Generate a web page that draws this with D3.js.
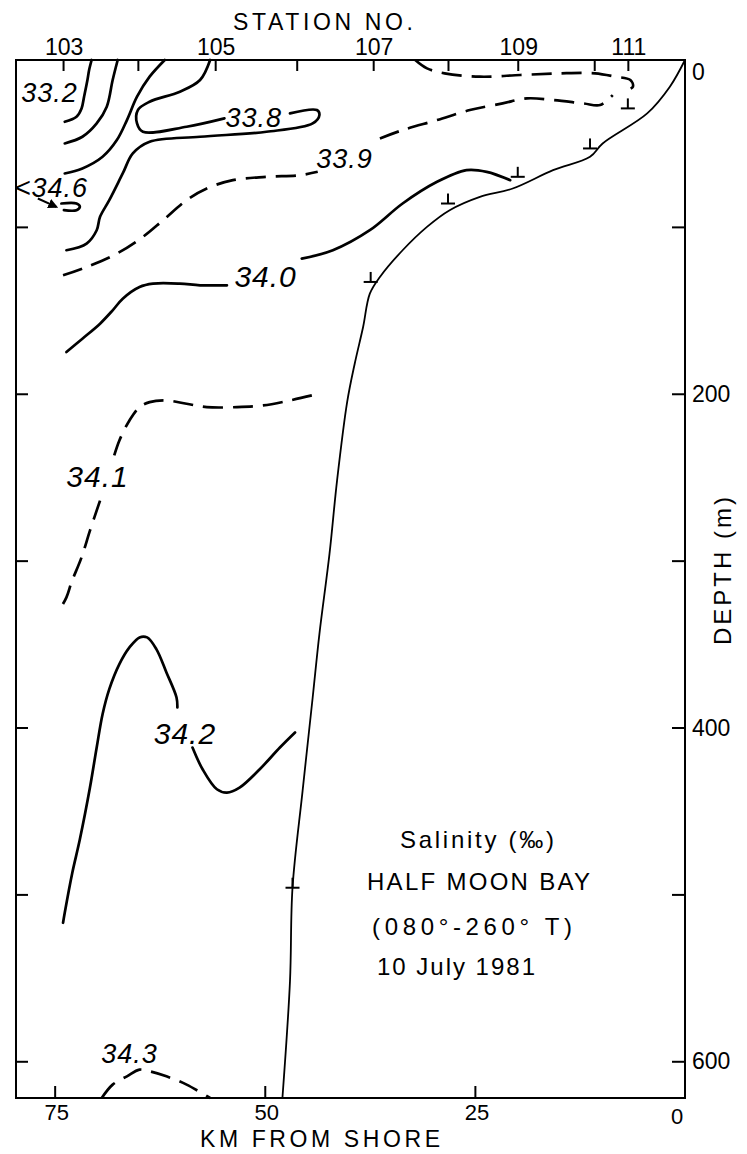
<!DOCTYPE html>
<html><head><meta charset="utf-8">
<script src="https://cdn.jsdelivr.net/npm/d3@7"></script>
<style>body{margin:0;background:#fff} svg{display:block}</style>
</head><body><svg id="c" width="747" height="1154"></svg>
<script>
// ---------- data (km from shore, depth m) ----------
const stationNames = ["103","104","105","106","107","108","109","110","111"];
const stationKm = [74.0, 65.1, 55.9, 46.2, 37.1, 28.2, 19.9, 10.8, 6.8];
const stationLabelled = ["103","105","107","109","111"];
const kmTicks = [75, 50, 25, 0];
const depthLabels = [0, 200, 400, 600];
const depthTicks = [100, 200, 300, 400, 500, 600];

// deepest sample at each station (⊥ marks)
const sampleKm = [46.7, 37.4, 28.2, 19.9, 11.3, 6.8];
const sampleDepth = [496, 133, 86, 70, 53, 29];

const seafloor = [[0,0],[1.8,16],[4.5,32],[9.8,50],[11.3,58],[15.7,66],[20.5,77],[24.4,82],[28.0,90],[30.7,100],[33.6,114],[36.3,130],[37.5,140],[38.3,160],[39.3,182],[40.2,205],[41.4,252],[42.3,296],[43.5,344],[44.3,382],[45.5,438],[46.7,496],[47.0,552],[47.9,622]];

const c332 = [[70.6,0],[70.9,6],[71.1,12],[71.5,22],[71.8,29],[72.4,34],[73.8,37]];
const c334 = [[67.5,0],[68.1,12],[68.8,28],[70.0,38],[71.7,46],[73.8,50]];
const c336 = [[61.9,0],[63.7,10],[65.2,22],[66.4,36],[67.6,48],[69.3,58],[71.7,65],[73.8,68]];
const c338a = [[56.5,0],[57.7,12],[60.1,19],[63.7,25],[65.1,30],[65.2,38],[64.5,43],[59.3,40],[54.8,35]];
const c338b = [[47.0,32],[43.8,30],[43.5,33],[44.3,38],[49.8,43],[57.7,46],[63.7,49],[65.7,56],[66.9,68],[68.5,84],[69.6,94],[70.0,102],[71.2,110],[73.6,114]];
const c339a = [[74.0,129],[71.2,124],[67.6,116],[64.5,106],[62.1,96],[59.3,84],[56.9,77],[53.8,72],[49.8,70],[45.8,69],[43.7,67]];
const c339b = [[36.3,47],[33.6,42],[29.5,36],[25.6,30],[21.7,26],[18.8,23],[15.7,24],[12.1,26],[10.1,27],[8.6,21]];
const cSurface = [[32.1,0],[30.7,5],[28.6,8],[24.4,10],[19.6,9],[14.9,8],[10.7,8],[8.3,10],[6.5,12],[6.2,16],[7.3,19]];
const c340a = [[73.6,175],[71.7,167],[69.6,158],[68.1,150],[66.9,143],[64.9,136],[63.3,134],[60.1,134],[57.7,135],[54.5,135]];
const c340b = [[45.6,119],[41.9,114],[37.5,102],[33.6,86],[29.5,73],[26.0,66],[23.6,67],[20.8,72]];
const c341a = [[44.4,201],[47.0,204],[50.2,207],[53.3,208],[56.9,208],[59.3,206],[61.7,204],[63.7,205],[64.9,208],[66.1,216],[67.3,228],[68.1,240]];
const c341b = [[69.6,264],[70.8,282],[71.8,298],[73.0,313],[73.6,322],[74.6,331]];
const c342a = [[74.0,517],[73.8,511],[72.9,487],[72.0,467],[70.8,436],[70.0,412],[69.3,392],[68.5,377],[67.3,362],[66.1,352],[64.9,346],[64.0,346],[62.9,353],[61.7,367],[60.5,382],[60.4,388]];
const c342b = [[58.6,412],[57.4,425],[55.7,437],[54.5,439],[53.0,436],[50.6,425],[48.2,412],[46.4,403]];
const c343 = [[69.4,622],[68.1,614],[66.4,609],[64.9,605],[63.7,606],[61.7,609],[59.3,614],[56.5,622]];
const c346 = [[74.2,86],[72.4,86],[72.0,88],[72.4,90],[73.9,90]];
const arrow346 = [[77.0,83],[74.8,88]];

const solidContours = [c332, c334, c336, c338a, c338b, c340a, c340b, c342a, c342b, c346];
const dashedContours = [c339a, c339b, cSurface, c341a, c341b, c343];

const labelText = ["33.2", "<34.6", "33.8", "33.9", "34.0", "34.1", "34.2", "34.3"];
const labelKm = [75.6, 75.4, 51.3, 40.5, 49.9, 69.9, 59.5, 66.1];
const labelDepth = [25, 82, 40, 65, 136, 256, 410, 601];

// ---------- layout ----------
const svg = d3.select("#c");
const x = d3.scaleLinear().domain([79.6, 0]).range([16, 685]);
const y = d3.scaleLinear().domain([0, 622]).range([60, 1098]);
const FONT = "'Liberation Sans', Arial, sans-serif";

const line = d3.line().x(d => x(d[0])).y(d => y(d[1])).curve(d3.curveCatmullRom.alpha(0.5));

// frame
svg.append("rect").attr("x", 16).attr("y", 60).attr("width", 669).attr("height", 1038)
  .attr("fill", "none").attr("stroke", "#000").attr("stroke-width", 2);

// axes with inward ticks
const gL = svg.append("g").attr("transform", "translate(16,0)")
  .call(d3.axisRight(y).tickValues(depthTicks).tickSize(12).tickFormat(""));
const gR = svg.append("g").attr("transform", "translate(685,0)")
  .call(d3.axisLeft(y).tickValues(depthTicks).tickSize(13).tickFormat(""));
const gB = svg.append("g").attr("transform", "translate(0,1098)")
  .call(d3.axisTop(x).tickValues(kmTicks.filter(k => k > 0)).tickSize(12).tickFormat(""));
const gT = svg.append("g").attr("transform", "translate(0,60)")
  .call(d3.axisBottom(x).tickValues(stationKm).tickSize(11).tickFormat(""));
[gL, gR, gB, gT].forEach(g => {
  g.select(".domain").remove();
  g.selectAll("line").attr("stroke", "#000").attr("stroke-width", 2);
});

// axis labels
svg.selectAll(".stl").data(stationNames.filter(s => stationLabelled.includes(s))).enter()
  .append("text").attr("x", s => x(stationKm[stationNames.indexOf(s)]) + 1).attr("y", 55)
  .attr("text-anchor", "middle").attr("font-family", FONT).attr("font-size", 23).text(s => s);
svg.append("text").attr("x", 233).attr("y", 30).attr("font-family", FONT).attr("font-size", 23)
  .attr("textLength", 180).attr("lengthAdjust", "spacing").text("STATION NO.");

svg.selectAll(".kml").data(kmTicks).enter().append("text")
  .attr("x", d => x(d) + (d === 0 ? -8 : 2)).attr("y", d => d === 0 ? 1124 : 1120)
  .attr("text-anchor", "middle").attr("font-family", FONT).attr("font-size", 22).text(d => d);
svg.append("text").attr("x", 200).attr("y", 1147).attr("font-family", FONT).attr("font-size", 23)
  .attr("textLength", 240).attr("lengthAdjust", "spacing").text("KM FROM SHORE");

svg.selectAll(".dl").data(depthLabels).enter().append("text")
  .attr("x", 692).attr("y", d => d === 0 ? y(d) + 20 : y(d) + 8)
  .attr("font-family", FONT).attr("font-size", 23).text(d => d);
svg.append("text").attr("transform", "translate(731,571) rotate(-90)")
  .attr("text-anchor", "middle").attr("font-family", FONT).attr("font-size", 24)
  .attr("textLength", 148).attr("lengthAdjust", "spacing").text("DEPTH (m)");

// seafloor
svg.append("path").attr("d", line(seafloor)).attr("fill", "none")
  .attr("stroke", "#000").attr("stroke-width", 1.8);

// contours
svg.selectAll(".sc").data(solidContours).enter().append("path")
  .attr("d", line).attr("fill", "none").attr("stroke", "#000")
  .attr("stroke-width", 2.7).attr("stroke-linecap", "round");
svg.selectAll(".dc").data(dashedContours).enter().append("path")
  .attr("d", line).attr("fill", "none").attr("stroke", "#000")
  .attr("stroke-width", 2.7).attr("stroke-dasharray", "20,10");

// arrow for <34.6
svg.append("defs").append("marker").attr("id", "ah").attr("viewBox", "0 0 10 10")
  .attr("refX", 8).attr("refY", 5).attr("markerWidth", 5).attr("markerHeight", 5).attr("orient", "auto")
  .append("path").attr("d", "M0,0L10,5L0,10z").attr("fill", "#000");
svg.append("path").attr("d", d3.line().x(d => x(d[0])).y(d => y(d[1]))(arrow346))
  .attr("stroke", "#000").attr("stroke-width", 2).attr("marker-end", "url(#ah)");

// sample marks ⊥
const marks = svg.selectAll(".mk").data(sampleKm).enter().append("g")
  .attr("transform", (d, i) => `translate(${x(d)},${y(sampleDepth[i])})`);
marks.append("line").attr("x1", -7).attr("x2", 7).attr("y1", 0).attr("y2", 0).attr("stroke", "#000").attr("stroke-width", 2);
marks.append("line").attr("x1", 0).attr("x2", 0).attr("y1", 0).attr("y2", -10).attr("stroke", "#000").attr("stroke-width", 2);

// contour labels
svg.selectAll(".cl").data(labelText).enter().append("text")
  .attr("x", (d, i) => x(labelKm[i])).attr("y", (d, i) => y(labelDepth[i]))
  .attr("text-anchor", "middle").attr("font-family", FONT).attr("font-style", "italic")
  .attr("font-size", d => ["34.0", "34.1", "34.2"].includes(d) ? 30 : 27)
  .attr("letter-spacing", 1).text(d => d);

// title block
const title = [
  ["Salinity (‰)", 400, 848, 154],
  ["HALF MOON BAY", 367, 890, 223],
  ["(080°-260° T)", 372, 935, 200],
  ["10 July 1981", 377, 975, 158]
];
svg.selectAll(".tt").data(title).enter().append("text")
  .attr("x", d => d[1]).attr("y", d => d[2]).attr("textLength", d => d[3]).attr("lengthAdjust", "spacing")
  .attr("font-family", FONT).attr("font-size", 24).text(d => d[0]);
</script></body></html>
